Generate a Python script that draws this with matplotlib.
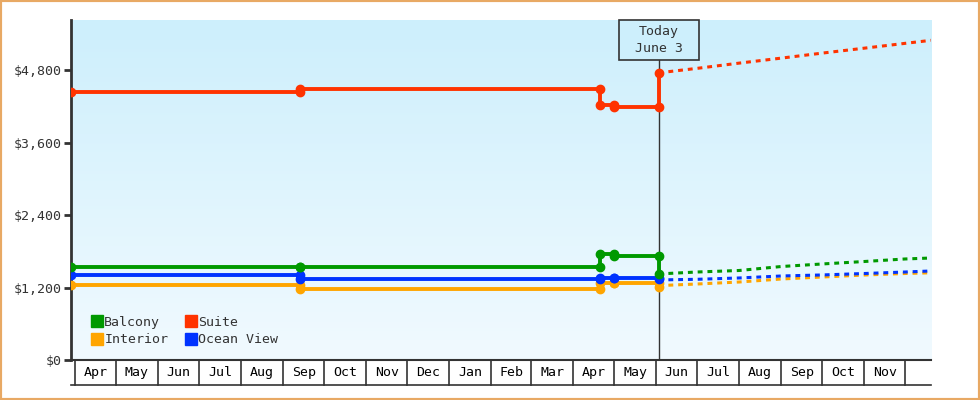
import numpy as np
import matplotlib.pyplot as plt
import matplotlib.dates as mdates
import matplotlib.transforms as mtransforms
from matplotlib.colors import LinearSegmentedColormap
from matplotlib.lines import Line2D
from matplotlib.patches import Rectangle

plt.rcParams['font.family'] = ['DejaVu Sans Mono', 'DejaVu Sans']

# price history (value after each change)
change_dates = ['2023-03-29', '2023-09-13', '2024-04-21', '2024-05-01', '2024-06-03']
balcony = [1540, 1540, 1750, 1725, 1420]
interior = [1240, 1170, 1275, 1270, 1215]
suite = [4440, 4490, 4220, 4190, 4765]
ocean_view = [1405, 1345, 1355, 1360, 1340]

# projected prices
proj_dates = ['2024-06-10', '2024-07-01', '2024-08-01', '2024-09-01',
              '2024-10-01', '2024-11-01', '2024-12-01', '2024-12-20']
balcony_proj = [1435, 1459, 1484, 1550, 1592, 1633, 1675, 1691]
interior_proj = [1240, 1260, 1293, 1343, 1376, 1409, 1434, 1446]
suite_proj = [4780, 4835, 4922, 5005, 5088, 5170, 5250, 5300]
ocean_view_proj = [1330, 1338, 1360, 1393, 1410, 1434, 1459, 1476]

month_starts = ['2023-04-01', '2023-05-01', '2023-06-01', '2023-07-01', '2023-08-01',
                '2023-09-01', '2023-10-01', '2023-11-01', '2023-12-01', '2024-01-01',
                '2024-02-01', '2024-03-01', '2024-04-01', '2024-05-01', '2024-06-01',
                '2024-07-01', '2024-08-01', '2024-09-01', '2024-10-01', '2024-11-01',
                '2024-12-01']
month_labels = ['Apr', 'May', 'Jun', 'Jul', 'Aug', 'Sep', 'Oct', 'Nov', 'Dec', 'Jan',
                'Feb', 'Mar', 'Apr', 'May', 'Jun', 'Jul', 'Aug', 'Sep', 'Oct', 'Nov']
today = '2024-06-03'
x_start, x_end = '2023-03-29', '2024-12-20'
y_max = 5637
yticks = [0, 1200, 2400, 3600, 4800]

series = [
    ('Interior', interior, interior_proj, '#ffa500'),
    ('Ocean View', ocean_view, ocean_view_proj, '#0033ff'),
    ('Balcony', balcony, balcony_proj, '#009900'),
    ('Suite', suite, suite_proj, '#ff3300'),
]

dark = '#333333'
fig = plt.figure(figsize=(9.8, 4), dpi=100)
ax = fig.add_axes([71 / 980, 40 / 400, 860 / 980, 340 / 400])

# gradient background
bg = LinearSegmentedColormap.from_list('bg', ['#cdeffc', '#f1faff'])
ax.imshow(np.linspace(0, 1, 256).reshape(-1, 1), cmap=bg, aspect='auto',
          extent=[0, 1, 0, 1], transform=ax.transAxes, zorder=0)

cd = mdates.datestr2num(change_dates)
pd_ = mdates.datestr2num(proj_dates)
for i, (name, vals, proj, col) in enumerate(series):
    xs, ys = [], []
    for k in range(len(cd)):
        if k > 0:
            xs.append(cd[k]); ys.append(vals[k - 1])
        xs.append(cd[k]); ys.append(vals[k])
    ax.plot(xs, ys, color=col, lw=2.8, marker='o', ms=6, zorder=3 + i)
    ax.plot(pd_, proj, color=col, lw=2.2, linestyle=(0, (1.6, 1.6)), zorder=3 + i)

x0, x1 = mdates.datestr2num(x_start), mdates.datestr2num(x_end)
ax.set_xlim(x0, x1)
ax.set_ylim(0, y_max)
ax.set_xticks([])
ax.set_yticks(yticks)
ax.set_yticklabels(['${:,}'.format(v) for v in yticks])
ax.tick_params(axis='y', length=5, width=2, color=dark, pad=2,
               labelsize=9.5, labelcolor=dark)
for s in ['top', 'right']:
    ax.spines[s].set_visible(False)
ax.spines['left'].set_color(dark)
ax.spines['left'].set_linewidth(2)
ax.spines['bottom'].set_color(dark)
ax.spines['bottom'].set_linewidth(1.5)

# month band under the axis
trans = mtransforms.blended_transform_factory(ax.transData, ax.transAxes)
band_h = 25 / 340
ms = mdates.datestr2num(month_starts)
for m in ms:
    ax.plot([m, m], [0, -band_h], transform=trans, clip_on=False, color=dark, lw=1.2)
ax.plot([x0, x1], [-band_h, -band_h], transform=trans, clip_on=False, color=dark, lw=1.2)
for k, lab in enumerate(month_labels):
    ax.text((ms[k] + ms[k + 1]) / 2, -band_h / 2, lab, transform=trans,
            ha='center', va='center', fontsize=9.5, color='black')

# today marker
t = mdates.datestr2num(today)
ax.plot([t, t], [0, 1 - 40 / 340], transform=trans, color=dark, lw=1, zorder=2)
tx = fig.transFigure.inverted().transform(ax.transData.transform((t, 0)))[0]
fig.patches.append(Rectangle((tx - 40 / 980, 1 - 60 / 400), 80 / 980, 40 / 400,
                             transform=fig.transFigure, facecolor='#cdeffc',
                             edgecolor=dark, lw=1.2))
fig.text(tx, 1 - 40 / 400, 'Today\nJune 3', ha='center', va='center',
         fontsize=9.5, color=dark, linespacing=1.5)

# legend
handles = [Line2D([], [], marker='s', ms=8, ls='none', color=c)
           for c in ['#009900', '#ffa500', '#ff3300', '#0033ff']]
ax.legend(handles, ['Balcony', 'Interior', 'Suite', 'Ocean View'], ncol=2,
          loc='lower left', bbox_to_anchor=(0.018, 0.025), frameon=False,
          handlelength=0.8, handletextpad=0.15, columnspacing=1.3,
          labelspacing=0.35, fontsize=9.5, borderaxespad=0, labelcolor=dark)

# frame around figure
fig.patches.append(Rectangle((0, 0), 1, 1, transform=fig.transFigure, fill=False,
                             edgecolor='#e8a964', lw=3))

fig.savefig('out.png', dpi=100)
